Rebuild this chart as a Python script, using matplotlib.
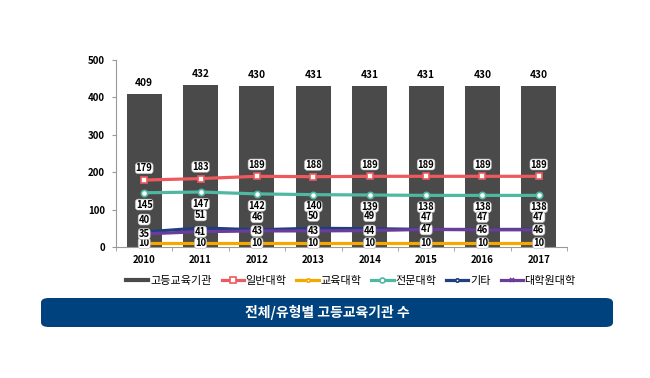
import matplotlib
matplotlib.use("Agg")
import matplotlib.pyplot as plt
from matplotlib.patches import FancyBboxPatch

plt.rcParams["font.family"] = ["Noto Sans CJK KR", "DejaVu Sans"]

years = ["2010", "2011", "2012", "2013", "2014", "2015", "2016", "2017"]
total = [409, 432, 430, 431, 431, 431, 430, 430]
general_univ = [179, 183, 189, 188, 189, 189, 189, 189]
edu_univ = [10, 10, 10, 10, 10, 10, 10, 10]
college = [145, 147, 142, 140, 139, 138, 138, 138]
others = [40, 51, 46, 50, 49, 47, 47, 47]
grad_univ = [35, 41, 43, 43, 44, 47, 46, 46]

W, H = 650, 378
fig = plt.figure(figsize=(W / 100, H / 100), dpi=100)
ax = fig.add_axes([116 / W, 1 - 247 / H, (567 - 116) / W, (247 - 60) / H])

x = list(range(len(years)))
ax.bar(x, total, width=0.62, color="#4a4a4a", label="고등교육기관", zorder=1)

# values, colour, marker, marker size, marker face, name, label offset (pt)
lines = [
    (general_univ, "#ec5a5e", "s", 5, "white", "일반대학", 8.5),
    (edu_univ, "#f5a800", "o", 3, "white", "교육대학", 0),
    (college, "#4fb8a2", "o", 4.5, "white", "전문대학", -8.5),
    (others, "#1f3f80", "o", 3, "white", "기타", 9),
    (grad_univ, "#6a3d9a", "x", 3, "#6a3d9a", "대학원대학", 0),
]

label_box = dict(boxstyle="round,pad=0.05,rounding_size=0.3", fc="white",
                 ec="#bbbbbb", lw=0.4)

for vals, color, marker, ms, mfc, name, dy in lines:
    ax.plot(x, vals, color=color, lw=2.3, marker=marker, markersize=ms,
            markerfacecolor=mfc, markeredgecolor=color, markeredgewidth=1.2,
            label=name, zorder=3)
    for xi, v in zip(x, vals):
        ax.annotate(str(v), (xi, v), xytext=(0, dy), textcoords="offset points",
                    ha="center", va="center", fontsize=6.8, fontweight="bold",
                    bbox=label_box, zorder=5)

for xi, v in zip(x, total):
    ax.annotate(str(v), (xi, v), xytext=(0, 8), textcoords="offset points",
                ha="center", va="center", fontsize=7.3, fontweight="bold")

ax.set_xlim(-0.5, len(years) - 0.5)
ax.set_ylim(0, 500)
ax.set_yticks([0, 100, 200, 300, 400, 500])
ax.set_xticks(x)
ax.set_xticklabels(years)
ax.set_xticks([i - 0.5 for i in range(len(years) + 1)], minor=True)
ax.tick_params(axis="x", which="major", length=0, pad=6)
ax.tick_params(axis="x", which="minor", length=3, color="#999999")
ax.tick_params(axis="y", length=3, color="#999999", pad=5)
for lbl in ax.get_xticklabels() + ax.get_yticklabels():
    lbl.set_fontsize(7)
    lbl.set_fontweight("bold")
for side in ["top", "right"]:
    ax.spines[side].set_visible(False)
for side in ["left", "bottom"]:
    ax.spines[side].set_color("#999999")
    ax.spines[side].set_linewidth(0.8)

handles, labels = ax.get_legend_handles_labels()
bar_handle = plt.Line2D([], [], color="#4a4a4a", lw=3)
line_handles = [h for h, l in zip(handles, labels) if l != "고등교육기관"]
line_labels = [l for l in labels if l != "고등교육기관"]
fig.legend([bar_handle] + line_handles, ["고등교육기관"] + line_labels,
           loc="center", bbox_to_anchor=(351 / W, 1 - 281 / H),
           ncol=6, frameon=False, fontsize=8, handlelength=2.0,
           handletextpad=0.15, columnspacing=0.9, markerscale=0.8)

box = FancyBboxPatch((41 / W, 1 - 327 / H), (613 - 41) / W, (327 - 298) / H,
                     boxstyle="round,pad=0,rounding_size=0.012",
                     transform=fig.transFigure, fc="#00427e", ec="none")
fig.patches.append(box)
fig.text(327 / W, 1 - 312.5 / H, "전체/유형별 고등교육기관 수", color="white",
         ha="center", va="center", fontsize=10, fontweight="bold")

fig.savefig("out.png", dpi=100)
